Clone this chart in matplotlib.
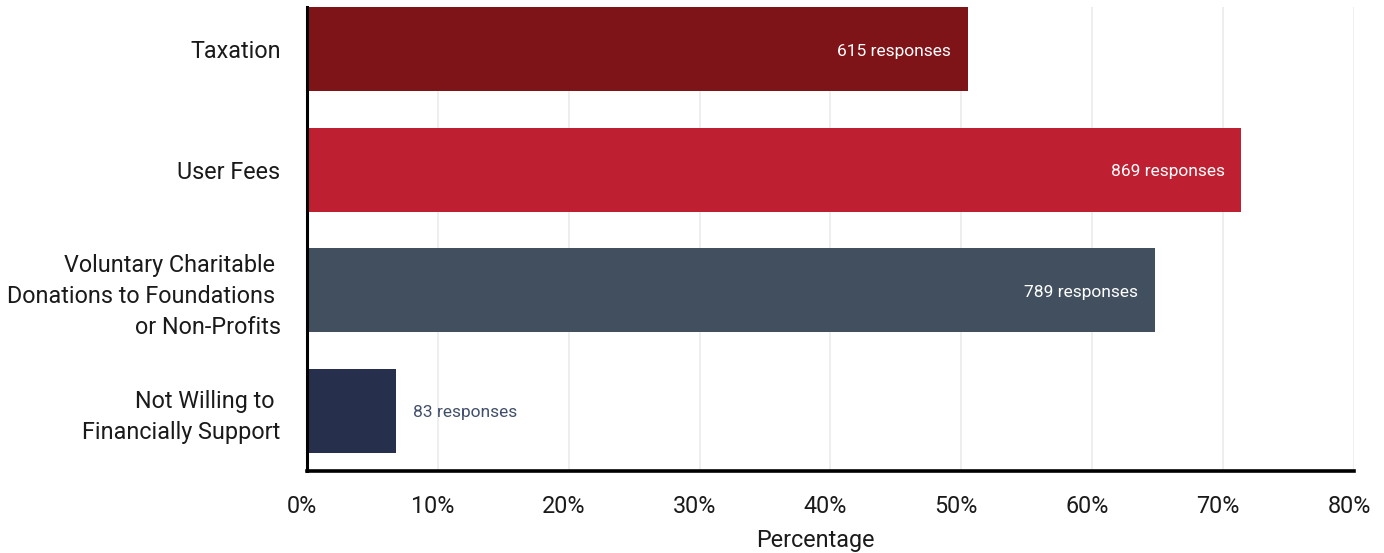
import matplotlib
matplotlib.use("Agg")
import matplotlib.pyplot as plt
import matplotlib.transforms as mtransforms
from matplotlib.ticker import FuncFormatter

plt.rcParams["font.family"] = ["Roboto", "DejaVu Sans"]

# data
categories = [
    "Taxation",
    "User Fees",
    "Voluntary Charitable \nDonations to Foundations \nor Non-Profits",
    "Not Willing to \nFinancially Support",
]
percent = [50.5, 71.4, 64.8, 6.8]
responses = [615, 869, 789, 83]
colors = ["#7F1418", "#BE2031", "#424F5F", "#262F4B"]

fig = plt.figure(figsize=(13.84, 5.53), dpi=100)
ax = fig.add_axes([0.2218, 0.1483, 0.7565, 0.839])

y = range(len(categories))
ax.barh(y, percent, height=0.7, color=colors, zorder=2)

# response count labels
for i, (p, n) in enumerate(zip(percent, responses)):
    txt = f"{n} responses"
    if p > 20:
        ax.annotate(txt, (p, i), xytext=(-12, -1.5), textcoords="offset points",
                    ha="right", va="center", color="white", fontsize=12.5, zorder=3)
    else:
        ax.annotate(txt, (p, i), xytext=(12, -1), textcoords="offset points",
                    ha="left", va="center", color="#424F6A", fontsize=12.5, zorder=3)

ax.set_xlim(0, 80)
ax.set_ylim(3.5, -0.35)
ax.set_xticks(range(0, 81, 10))
ax.xaxis.set_major_formatter(FuncFormatter(lambda v, pos: f"{v:.0f}%"))
ax.set_yticks(list(y))
ax.set_yticklabels(categories, linespacing=1.42)
ax.tick_params(axis="both", length=0, labelsize=16.8, colors="#1a1a1a")
ax.tick_params(axis="x", pad=17)
ax.tick_params(axis="y", pad=19)
ax.set_xlabel("Percentage", fontsize=16.8, color="#1a1a1a", labelpad=8)
ax.xaxis.label.set_x(0.486)

# x tick labels sit a little left of their gridlines
shift = mtransforms.ScaledTranslation(-5 / 100, 0, fig.dpi_scale_trans)
for lbl in ax.get_xticklabels():
    lbl.set_transform(lbl.get_transform() + shift)

ax.grid(axis="x", color="#EBEBEB", linewidth=1.2, zorder=0)
ax.set_axisbelow(True)
for s in ["top", "right"]:
    ax.spines[s].set_visible(False)
ax.spines["left"].set_linewidth(2.2)
ax.spines["bottom"].set_linewidth(2.6)
ax.spines["left"].set_zorder(4)

fig.savefig("out.png", dpi=100)
